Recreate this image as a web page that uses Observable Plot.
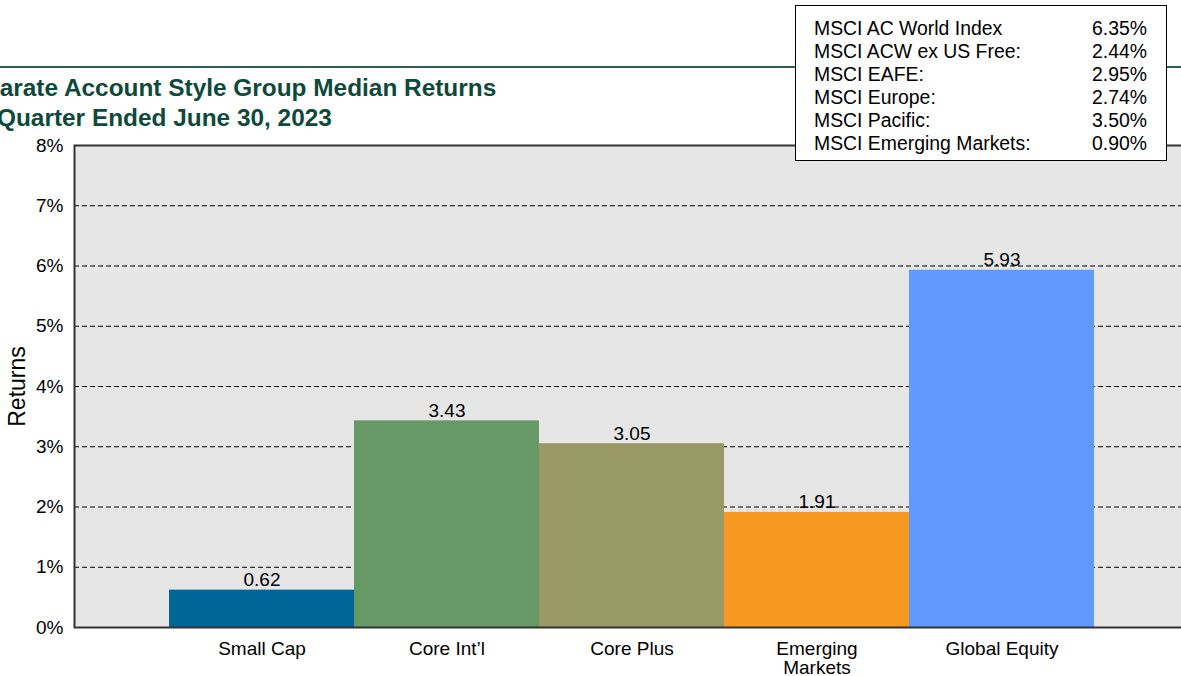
<!DOCTYPE html>
<html>
<head>
<meta charset="utf-8">
<script src="https://cdn.jsdelivr.net/npm/d3@7"></script>
<script src="https://cdn.jsdelivr.net/npm/@observablehq/plot@0.6"></script>
<style>
  html, body { margin: 0; padding: 0; background: #fff; overflow: hidden; width: 1181px; height: 676px; }
  body { position: relative; font-family: "Liberation Sans", Arial, sans-serif; }
  #rule { position: absolute; left: 0; top: 66px; width: 1181px; height: 0; border-top: 2px solid #2f5f52; }
  .title { position: absolute; font-weight: bold; font-size: 24.4px; color: #0e4a3b; white-space: nowrap; line-height: 30px; }
  #chart { position: absolute; left: 0; top: 0; width: 1190px; }
  #chart svg { max-width: none !important; }
  #legend { position: absolute; left: 795px; top: 5px; width: 372px; height: 156px; background: #fff; border: 1px solid #000; box-sizing: border-box; z-index: 5; font-size: 19.4px; color: #000; }
  .row { position: absolute; left: 18px; right: 19px; height: 23px; line-height: 23px; }
  .row .v { position: absolute; right: 0; top: 0; }
</style>
</head>
<body>
<div id="rule"></div>
<div class="title" id="t1" style="left:-45px; top:73px;"></div>
<div class="title" id="t2" style="left:-3px; top:103px;"></div>
<div id="chart"></div>
<div id="legend"></div>
<script>
const titleLines = ["Separate Account Style Group Median Returns", "Quarter Ended June 30, 2023"];
const categories = ["Small Cap", "Core Int\u2019l", "Core Plus", "Emerging Markets", "Global Equity"];
const values = [0.62, 3.43, 3.05, 1.91, 5.93];
const barColors = ["#006699", "#669966", "#999966", "#F7991F", "#6199FF"];
const yTicks = [0, 1, 2, 3, 4, 5, 6, 7, 8];
const yLabel = "Returns";
const indexNames = ["MSCI AC World Index", "MSCI ACW ex US Free:", "MSCI EAFE:", "MSCI Europe:", "MSCI Pacific:", "MSCI Emerging Markets:"];
const indexValues = ["6.35%", "2.44%", "2.95%", "2.74%", "3.50%", "0.90%"];

document.getElementById("t1").textContent = titleLines[0];
document.getElementById("t2").textContent = titleLines[1];

const legend = document.getElementById("legend");
indexNames.forEach((n, i) => {
  const r = document.createElement("div");
  r.className = "row";
  r.style.top = (11 + i * 23) + "px";
  const a = document.createElement("span"); a.textContent = n;
  const b = document.createElement("span"); b.className = "v"; b.textContent = indexValues[i];
  r.appendChild(a); r.appendChild(b);
  legend.appendChild(r);
});

const data = categories.map((c, i) => ({cat: c, val: values[i], color: barColors[i]}));

const plot = Plot.plot({
  width: 1190,
  height: 676,
  marginLeft: 74,
  marginRight: 2,
  marginTop: 145,
  marginBottom: 49,
  style: {fontFamily: "Liberation Sans, Arial, sans-serif", fontSize: "19px", color: "#000", background: "transparent", maxWidth: "none"},
  x: {domain: categories, paddingInner: 0, paddingOuter: 0.5, label: null},
  y: {domain: [0, 8], label: null},
  color: {type: "identity"},
  marks: [
    Plot.frame({fill: "#e6e6e6"}),
    Plot.ruleY(yTicks.filter(d => d > 0 && d < 8), {stroke: "#000", strokeWidth: 1, strokeDasharray: "5,3"}),
    Plot.barY(data, {x: "cat", y: "val", fill: "color"}),
    Plot.text(data, {x: "cat", y: "val", text: d => d.val.toFixed(2), lineAnchor: "bottom", dy: -4, fontSize: 19, fill: "#000"}),
    Plot.frame({stroke: "#333", strokeWidth: 2}),
    Plot.axisY({ticks: yTicks, tickFormat: d => d + "%", tickSize: 0, tickPadding: 11, fontSize: 19, label: null}),
    Plot.axisX({tickSize: 0, tickPadding: 14, fontSize: 19, label: null, lineHeight: 1, tickFormat: d => d === "Emerging Markets" ? "Emerging\nMarkets" : d}),
    Plot.text([yLabel], {frameAnchor: "left", textAnchor: "middle", rotate: -90, dx: -57, fontSize: 23, fill: "#000", text: d => d})
  ]
});
document.getElementById("chart").appendChild(plot);
</script>
</body>
</html>
